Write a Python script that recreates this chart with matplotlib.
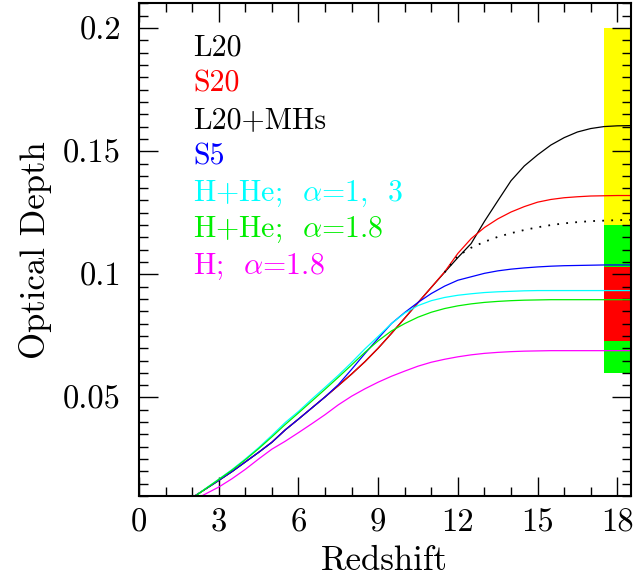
import matplotlib
matplotlib.use('Agg')
import matplotlib.pyplot as plt
from matplotlib.ticker import MultipleLocator, FixedLocator

plt.rcParams['font.family'] = ['cmr10', 'DejaVu Serif']
plt.rcParams['mathtext.fontset'] = 'cm'
plt.rcParams['axes.unicode_minus'] = False

# redshift grids
z_main = [2.1, 2.5, 3.0, 3.5, 4.0, 4.5, 5.0, 5.5, 6.0, 6.5, 7.0, 7.5, 8.0, 8.5, 9.0, 9.5,
          10.0, 10.5, 11.0, 11.5, 12.0, 12.5, 13.0, 13.5, 14.0, 14.5, 15.0, 15.5, 16.0,
          16.5, 17.0, 17.5, 18.0, 18.5]
z_mag = [2.3, 2.5, 3.0, 3.5, 4.0, 4.5, 5.0, 5.5, 6.0, 6.5, 7.0, 7.5, 8.0, 8.5, 9.0, 9.5,
         10.0, 10.5, 11.0, 11.5, 12.0, 12.5, 13.0, 13.5, 14.0, 14.5, 15.0, 15.5, 16.0,
         16.5, 17.0, 17.5, 18.0, 18.5]
z_mhs = [11.5, 12.0, 12.5, 13.0, 13.5, 14.0, 14.5, 15.0, 15.5, 16.0, 16.5, 17.0, 17.5, 18.0, 18.5]

# optical depth curves
tau_L20 = [0.0100, 0.0128, 0.0163, 0.0199, 0.0238, 0.0277, 0.0318, 0.0368, 0.0412, 0.0457,
           0.0502, 0.0548, 0.0595, 0.0645, 0.0700, 0.0760, 0.0822, 0.0885, 0.0947, 0.1008,
           0.1068, 0.1125, 0.1215, 0.1298, 0.1380, 0.1440, 0.1485, 0.1525, 0.1555, 0.1578,
           0.1592, 0.1600, 0.1603, 0.1604]
tau_S20 = [0.0100, 0.0128, 0.0163, 0.0199, 0.0238, 0.0277, 0.0318, 0.0368, 0.0412, 0.0457,
           0.0502, 0.0548, 0.0595, 0.0645, 0.0700, 0.0760, 0.0822, 0.0885, 0.0947, 0.1010,
           0.1085, 0.1145, 0.1190, 0.1225, 0.1253, 0.1275, 0.1293, 0.1304, 0.1311, 0.1315,
           0.1318, 0.1319, 0.1320, 0.1320]
tau_L20_MHs = [0.1008, 0.1075, 0.1108, 0.1132, 0.1152, 0.1167, 0.1180, 0.1191, 0.1200,
               0.1207, 0.1212, 0.1216, 0.1218, 0.1220, 0.1221]
tau_S5 = [0.0100, 0.0128, 0.0163, 0.0199, 0.0238, 0.0277, 0.0318, 0.0368, 0.0412, 0.0457,
          0.0502, 0.0552, 0.0614, 0.0678, 0.0740, 0.0800, 0.0845, 0.0886, 0.0922, 0.0952,
          0.0976, 0.0990, 0.1004, 0.1014, 0.1021, 0.1026, 0.1030, 0.1033, 0.1035, 0.1036,
          0.1037, 0.1038, 0.1038, 0.1038]
tau_HHe_13 = [0.0098, 0.0130, 0.0168, 0.0207, 0.0250, 0.0296, 0.0346, 0.0398, 0.0443, 0.0493,
              0.0541, 0.0590, 0.0642, 0.0697, 0.0748, 0.0800, 0.0843, 0.0873, 0.0893, 0.0906,
              0.0915, 0.0921, 0.0926, 0.0929, 0.0931, 0.0933, 0.0934, 0.0934, 0.0934, 0.0934,
              0.0934, 0.0934, 0.0934, 0.0934]
tau_HHe_18 = [0.0098, 0.0129, 0.0167, 0.0205, 0.0247, 0.0292, 0.0340, 0.0390, 0.0437, 0.0485,
              0.0533, 0.0582, 0.0632, 0.0683, 0.0730, 0.0770, 0.0800, 0.0826, 0.0846, 0.0861,
              0.0872, 0.0880, 0.0886, 0.0890, 0.0893, 0.0895, 0.0896, 0.0897, 0.0897, 0.0897,
              0.0897, 0.0897, 0.0897, 0.0897]
tau_H_18 = [0.0097, 0.0108, 0.0136, 0.0170, 0.0208, 0.0250, 0.0290, 0.0322, 0.0357, 0.0393,
            0.0430, 0.0470, 0.0505, 0.0535, 0.0562, 0.0586, 0.0607, 0.0627, 0.0643, 0.0655,
            0.0665, 0.0673, 0.0679, 0.0683, 0.0686, 0.0688, 0.0689, 0.0690, 0.0690, 0.0690,
            0.0690, 0.0690, 0.0690, 0.0690]

# observed constraint bands (lower, upper)
band_lo = [0.120, 0.103, 0.073, 0.060]
band_hi = [0.200, 0.120, 0.103, 0.073]
band_col = ['#ffff00', '#00ff00', '#ff0000', '#00ff00']

xticks = [0, 3, 6, 9, 12, 15, 18]
xtick_labels = ['0', '3', '6', '9', '12', '15', '18']
yticks = [0.05, 0.1, 0.15, 0.2]
ytick_labels = ['0.05', '0.1', '0.15', '0.2']

labels = ['L20', 'S20', 'L20+MHs', 'S5', r'H+He;  $\alpha$=1,  3', r'H+He;  $\alpha$=1.8',
          r'H;  $\alpha$=1.8']
label_cols = ['black', 'red', 'black', 'blue', 'cyan', '#00ee00', 'magenta']

fig = plt.figure(figsize=(6.35, 5.76), dpi=100)
ax = fig.add_axes([0.219, 0.139, 0.774, 0.855])

for lo, hi, c in zip(band_lo, band_hi, band_col):
    ax.bar(18.0, hi - lo, bottom=lo, width=1.0, color=c, linewidth=0, zorder=1)

lw = 0.9
ax.plot(z_main, tau_L20, color='black', lw=lw)
ax.plot(z_main, tau_S20, color='red', lw=lw)
ax.plot(z_mhs, tau_L20_MHs, color='black', lw=1.3, linestyle=(0, (1, 4)))
ax.plot(z_main, tau_S5, color='blue', lw=lw)
ax.plot(z_main, tau_HHe_13, color='cyan', lw=lw)
ax.plot(z_main, tau_HHe_18, color='#00ee00', lw=lw)
ax.plot(z_mag, tau_H_18, color='magenta', lw=lw)

for i, (t, c) in enumerate(zip(labels, label_cols)):
    ax.text(0.110, 0.895 - i * 0.0739, t, color=c, fontsize=21.5, transform=ax.transAxes,
            va='baseline', ha='left')

ax.set_xlim(0, 18.5)
ax.set_ylim(0.01, 0.21)
ax.xaxis.set_major_locator(FixedLocator(xticks))
ax.xaxis.set_minor_locator(MultipleLocator(1))
ax.yaxis.set_major_locator(FixedLocator(yticks))
ax.yaxis.set_minor_locator(MultipleLocator(0.005))
ax.set_xticklabels(xtick_labels)
ax.set_yticklabels(ytick_labels)

ax.tick_params(which='both', direction='in', top=True, right=True, labelsize=23.5, width=1.0)
ax.tick_params(which='major', length=13.5)
ax.tick_params(which='minor', length=6.5)
ax.tick_params(axis='y', which='major', pad=13)
ax.tick_params(axis='x', which='major', pad=9)
for s in ax.spines.values():
    s.set_linewidth(1.5)

ax.set_xlabel('Redshift', fontsize=25, labelpad=6)
ax.set_ylabel('Optical Depth', fontsize=25, labelpad=8)

fig.savefig('out.png', dpi=100)
